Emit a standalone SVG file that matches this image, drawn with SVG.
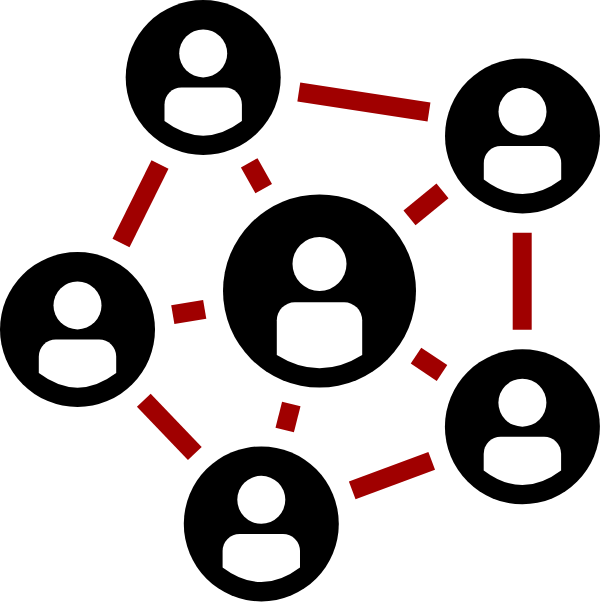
<svg xmlns="http://www.w3.org/2000/svg" width="600" height="602" viewBox="0 0 600 602">
<style>
.link{stroke:#a00000;stroke-width:19;fill:none}
.disc{fill:#000}
.glyph{fill:#fff}
</style>
<defs>
<g id="small"><circle class="disc" r="77.5"/><circle class="glyph" cy="-24.1" r="24"/><path class="glyph" d="M-38.7 43.6V27a17 17 0 0 1 17-17H21.7a17 17 0 0 1 17 17V43.6Q0 72.8-38.7 43.6Z"/></g>
<g id="large"><circle class="disc" r="96.5"/><circle class="glyph" cy="-27" r="27"/><path class="glyph" d="M-42.7 64V29.3a18 18 0 0 1 18-18H24.7a18 18 0 0 1 18 18V64Q0 90.6-42.7 64Z"/></g>
</defs>
<rect width="600" height="602" fill="#fff"/>
<g id="connectors">
<line class="link" x1="160" y1="164.5" x2="121" y2="243"/>
<line class="link" x1="249.2" y1="162.8" x2="263.7" y2="188.7"/>
<line class="link" x1="172.8" y1="314.7" x2="204.7" y2="309.3"/>
<line class="link" x1="298.8" y1="92" x2="429" y2="112"/>
<line class="link" x1="409.5" y1="217.8" x2="442.5" y2="190.8"/>
<line class="link" x1="522.2" y1="232.7" x2="522.2" y2="329.7"/>
<line class="link" x1="416" y1="355.7" x2="442" y2="373"/>
<line class="link" x1="143.8" y1="400.2" x2="194.8" y2="453.5"/>
<line class="link" x1="291.3" y1="404" x2="284.7" y2="430"/>
<line class="link" x1="352.2" y1="490.3" x2="431.7" y2="460.8"/>
</g>
<g id="node-top"><use href="#small" x="203.2" y="77.5"/></g>
<g id="node-top-right"><use href="#small" x="522.5" y="135.9"/></g>
<g id="node-left"><use href="#small" x="77.5" y="329.5"/></g>
<g id="node-bottom"><use href="#small" x="261.3" y="523.9"/></g>
<g id="node-bottom-right"><use href="#small" x="522.4" y="426.8"/></g>
<g id="node-center"><use href="#large" x="319.5" y="291"/></g>
</svg>
